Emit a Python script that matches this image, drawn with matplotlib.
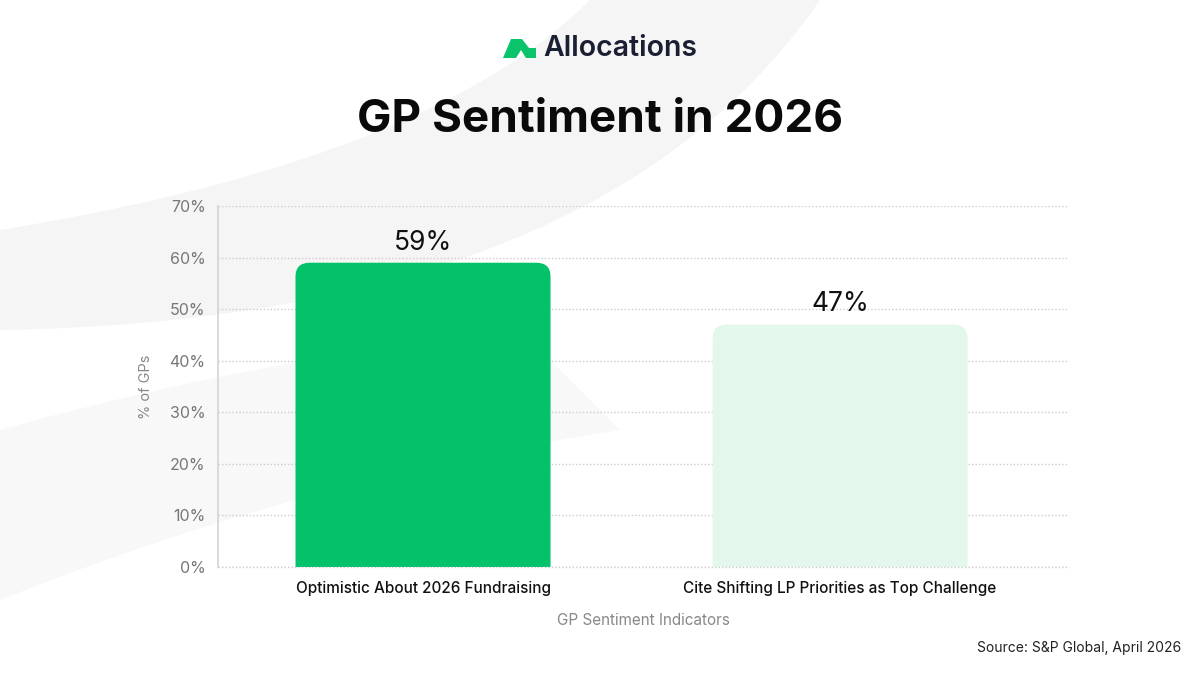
import numpy as np
import matplotlib
matplotlib.use("Agg")
import matplotlib.pyplot as plt
from matplotlib.path import Path
from matplotlib.patches import PathPatch, Polygon

# ---- data ----
categories = ["Optimistic About 2026 Fundraising", "Cite Shifting LP Priorities as Top Challenge"]
values = [59, 47]
value_labels = ["59%", "47%"]
bar_colors = ["#04c26a", "#e4f7ed"]
y_ticks = [0, 10, 20, 30, 40, 50, 60, 70]
y_tick_labels = [f"{t}%" for t in y_ticks]
title = "GP Sentiment in 2026"
brand = "Allocations"
x_label = "GP Sentiment Indicators"
y_label = "% of GPs"
source = "Source: S&P Global, April 2026"

plt.rcParams['font.family'] = ['Inter', 'DejaVu Sans']

W, H = 1200, 675
fig = plt.figure(figsize=(12, 6.75), dpi=100)
fig.patch.set_facecolor("white")

# ---- background swooshes (figure pixel coords, top-origin) ----
bg = fig.add_axes([0, 0, 1, 1], zorder=-10)
bg.set_xlim(0, W)
bg.set_ylim(H, 0)
bg.axis("off")

def bez(p0, p1, p2, n=80):
    t = np.linspace(0, 1, n)[:, None]
    p0, p1, p2 = map(np.array, (p0, p1, p2))
    return (1 - t) ** 2 * p0 + 2 * t * (1 - t) * p1 + t ** 2 * p2

upper = bez((0, 230), (430, 160), (590, 0))
lower = bez((0, 330), (600, 320), (820, 0))
band1 = np.vstack([upper, lower[::-1]])
bg.add_patch(Polygon(band1, closed=True, facecolor="#f5f5f5", edgecolor="none"))
upper2 = bez((0, 430), (250, 360), (520, 330))
lower2 = bez((0, 600), (300, 480), (620, 430))
band2 = np.vstack([upper2, lower2[::-1]])
bg.add_patch(Polygon(band2, closed=True, facecolor="#f8f8f8", edgecolor="none"))

# ---- logo ----
icon = np.array([[503, 58], [511, 39], [522, 39], [529, 48], [536, 48],
                 [536, 58], [526, 58], [521, 50], [516, 58]])
bg.add_patch(Polygon(icon, closed=True, facecolor="#0ac36a", edgecolor="none"))
fig.text(543 / W, 1 - 48 / H, brand, fontsize=20.5, fontweight="semibold",
         color="#1b1f33", ha="left", va="center")

# ---- title ----
fig.text(0.5, 1 - 120 / H, title, fontsize=33, fontweight="bold",
         color="#0a0a0a", ha="center", va="center")

# ---- main axes ----
ax = fig.add_axes([218 / W, 1 - 567 / H, (1069 - 218) / W, (567 - 206) / H])
ax.set_facecolor("none")
x = np.arange(len(categories))
bars = ax.bar(x, values, width=0.6115, color=bar_colors)

ax.set_xlim(-0.4916, 1.549)
ax.set_ylim(0, 70)

# rounded top corners
rx, ry = 0.034, 2.7
for b, c in zip(bars, bar_colors):
    x0, w, h = b.get_x(), b.get_width(), b.get_height()
    x1 = x0 + w
    verts = [(x0, 0), (x0, h - ry), (x0, h), (x0 + rx, h), (x1 - rx, h),
             (x1, h), (x1, h - ry), (x1, 0), (x0, 0)]
    codes = [Path.MOVETO, Path.LINETO, Path.CURVE3, Path.CURVE3, Path.LINETO,
             Path.CURVE3, Path.CURVE3, Path.LINETO, Path.CLOSEPOLY]
    ax.add_patch(PathPatch(Path(verts, codes), facecolor=c, edgecolor="none", zorder=3))
    b.set_visible(False)

for xi, v, lab in zip(x, values, value_labels):
    ax.text(xi, v + 1.4, lab, ha="center", va="bottom", fontsize=19,
            color="#111111", zorder=4)

ax.set_yticks(y_ticks)
ax.set_yticklabels(y_tick_labels, fontsize=11.5, color="#777777")
ax.set_xticks(x)
ax.set_xticklabels(categories, fontsize=11, fontweight="medium", color="#111111")
ax.tick_params(axis="both", length=0)
ax.tick_params(axis="y", pad=9)
ax.tick_params(axis="x", pad=10)

ax.grid(axis="y", color="#cccccc", linestyle=(0, (1, 1.5)), linewidth=1, zorder=0)
ax.axhline(0, color="#cccccc", linestyle=(0, (1, 1.5)), linewidth=1, zorder=4, clip_on=False)
ax.set_axisbelow(True)
for s in ["top", "right", "bottom"]:
    ax.spines[s].set_visible(False)
ax.spines["left"].set_color("#d4d4d4")
ax.spines["left"].set_linewidth(1.2)

ax.set_xlabel(x_label, fontsize=11, color="#888888", labelpad=12)
ax.set_ylabel(y_label, fontsize=10.5, color="#888888", labelpad=12)

fig.text(1181 / W, 1 - 648 / H, source, fontsize=10, color="#222222",
         ha="right", va="center")

fig.savefig("out.png", dpi=100, facecolor="white")
